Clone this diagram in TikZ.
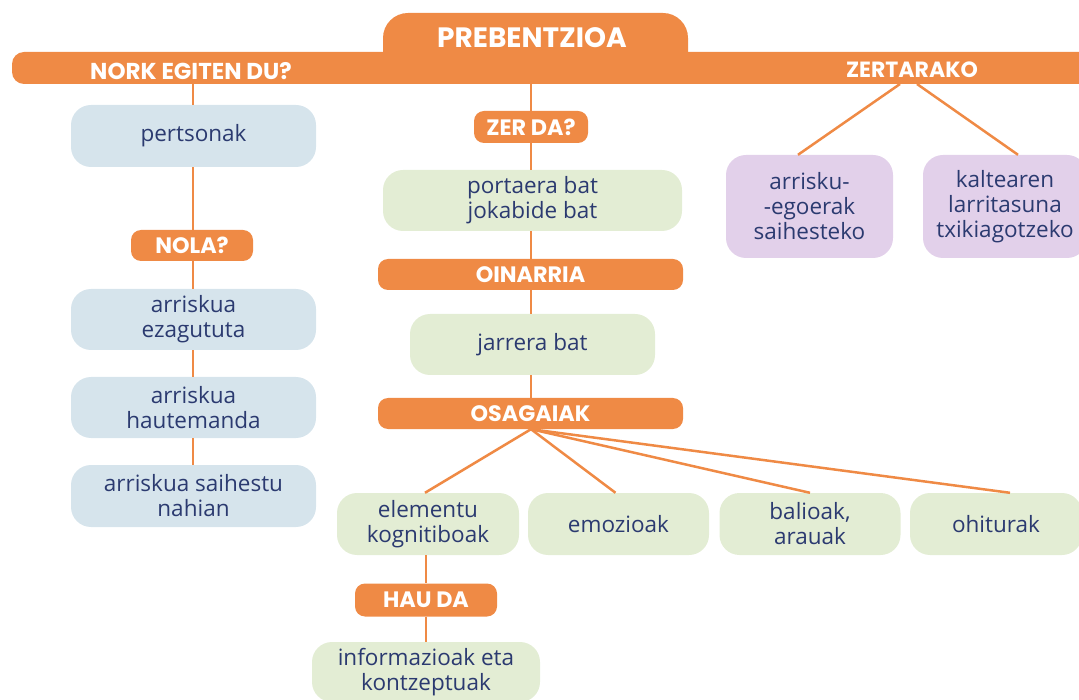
\documentclass[tikz,border=0pt]{standalone}
\usepackage{fontspec}
\setmainfont{Open Sans}
\newfontfamily\hdrfont{Poppins}
\usetikzlibrary{calc}
\definecolor{orng}{RGB}{239,138,69}
\definecolor{bluebox}{RGB}{214,228,236}
\definecolor{greenbox}{RGB}{227,237,212}
\definecolor{purplebox}{RGB}{226,208,234}
\definecolor{txt}{RGB}{43,58,112}
\tikzset{
  hdr/.style={fill=orng, text=white, rounded corners=10pt, inner sep=0pt,
    font=\hdrfont\bfseries\fontsize{22.3}{24}\selectfont, anchor=center},
  body/.style={rounded corners=20pt, inner sep=0pt, text=txt, align=center,
    font=\fontsize{22.5}{25}\selectfont},
  bbox/.style={body, fill=bluebox},
  gbox/.style={body, fill=greenbox},
  pbox/.style={body, fill=purplebox},
  conn/.style={draw=orng, line width=2.5pt},
}
\begin{document}
\begin{tikzpicture}[x=1pt,y=-1pt]
\useasboundingbox (0,0) rectangle (1079,700);
\clip (0,0) rectangle (1079,700);
% top bar and tab
\fill[orng, rounded corners=25pt] (383,13) rectangle (688,84);
\fill[orng, rounded corners=12pt] (12,52) rectangle (1110,84);
\node[text=white, font=\hdrfont\bfseries\fontsize{28}{30}\selectfont] (prev) at (532,38) {PREBENTZIOA};
\node[text=white, font=\hdrfont\bfseries\fontsize{23}{26}\selectfont] (nork) at (191,71) {NORK EGITEN DU?};
\node[text=white, font=\hdrfont\bfseries\fontsize{22}{24}\selectfont] (zert) at (912,70) {ZERTARAKO};
\coordinate (norkb) at (193,84);
\coordinate (prevb) at (531,84);
\coordinate (zerta) at (900,84);
\coordinate (zertb) at (917,84);
% left column
\node[bbox, minimum width=245pt, minimum height=62pt] (pers) at (193.5,136) {pertsonak};
\node[hdr, minimum width=122pt, minimum height=31pt] (nola) at (192,245.5) {NOLA?};
\node[bbox, minimum width=245pt, minimum height=61pt] (ezag) at (193.5,319.5) {arriskua\\ezagututa};
\node[bbox, minimum width=245pt, minimum height=61pt] (haut) at (193.5,407.5) {arriskua\\hautemanda};
\node[bbox, minimum width=245pt, minimum height=62pt] (saih) at (193.5,496) {arriskua saihestu\\nahian};
% middle column
\node[hdr, minimum width=114pt, minimum height=32pt] (zerda) at (531,127) {ZER DA?};
\node[gbox, minimum width=299pt, minimum height=61pt] (port) at (532.5,200.5) {portaera bat\\jokabide bat};
\node[hdr, minimum width=305pt, minimum height=31pt] (oin) at (530.5,274.5) {OINARRIA};
\node[gbox, minimum width=245pt, minimum height=61pt] (jarr) at (532.5,344.5) {jarrera bat};
\node[hdr, minimum width=305pt, minimum height=31pt] (osag) at (530.5,413.5) {OSAGAIAK};
\node[gbox, minimum width=182pt, minimum height=62pt] (elem) at (428,524) {elementu\\kognitiboak};
\node[gbox, minimum width=181pt, minimum height=62pt] (emoz) at (618.5,524) {emozioak};
\node[gbox, minimum width=181pt, minimum height=62pt] (bali) at (810,524) {balioak,\\arauak};
\node[gbox, minimum width=172pt, minimum height=62pt] (ohit) at (996,524) {ohiturak};
\node[hdr, minimum width=142pt, minimum height=33pt] (hauda) at (426,600) {HAU DA};
\node[gbox, minimum width=228pt, minimum height=60pt] (info) at (426,672) {informazioak eta\\kontzeptuak};
% right column
\node[pbox, minimum width=167pt, minimum height=103pt] (arr) at (809.5,206.5) {arrisku-\\-egoerak\\saihesteko};
\node[pbox, minimum width=164pt, minimum height=103pt] (kalt) at (1005,206.5) {kaltearen\\larritasuna\\txikiagotzeko};
% connectors (vertical ones kept straight)
\draw[conn] (norkb) -- (norkb |- pers.north);
\draw[conn] (norkb |- pers.south) -- (norkb |- nola.north);
\draw[conn] (norkb |- nola.south) -- (norkb |- ezag.north);
\draw[conn] (norkb |- ezag.south) -- (norkb |- haut.north);
\draw[conn] (norkb |- haut.south) -- (norkb |- saih.north);
\draw[conn] (prevb) -- (prevb |- zerda.north);
\draw[conn] (prevb |- zerda.south) -- (prevb |- port.north);
\draw[conn] (prevb |- port.south) -- (prevb |- oin.north);
\draw[conn] (prevb |- oin.south) -- (prevb |- jarr.north);
\draw[conn] (prevb |- jarr.south) -- (prevb |- osag.north);
\draw[conn] (prevb |- osag.south) -- ([xshift=-3pt]elem.north);
\draw[conn] (prevb |- osag.south) -- ([xshift=-3pt]emoz.north);
\draw[conn] (prevb |- osag.south) -- (bali.north);
\draw[conn] (prevb |- osag.south) -- ([xshift=14pt]ohit.north);
\draw[conn] (hauda.north |- elem.south) -- (hauda.north);
\draw[conn] (hauda.south) -- (info.north);
\draw[conn] (zerta) -- ([xshift=-11.5pt]arr.north);
\draw[conn] (zertb) -- ([xshift=13pt]kalt.north);
\end{tikzpicture}
\end{document}
